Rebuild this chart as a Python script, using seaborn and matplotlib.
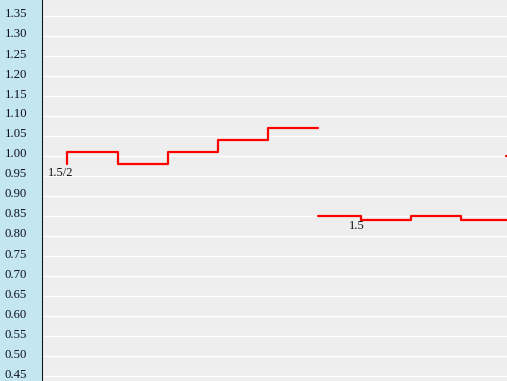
import matplotlib
matplotlib.use("Agg")
import matplotlib.pyplot as plt
import matplotlib.transforms as mtrans
import seaborn as sns
import numpy as np
import pandas as pd

# ---- data ----
s1_x = [0.5, 1.52, 2.52, 3.52, 4.52, 5.52]
s1_y = [0.98, 1.01, 0.98, 1.01, 1.04, 1.07]
s2_x = [5.52, 6.38, 7.38, 8.38, 9.36]
s2_y = [0.85, 0.85, 0.84, 0.85, 0.84]
s3_x = [9.28, 10.3]
s3_y = [1.00, 1.00]
y_ticks = [0.45, 0.50, 0.55, 0.60, 0.65, 0.70, 0.75, 0.80, 0.85, 0.90,
           0.95, 1.00, 1.05, 1.10, 1.15, 1.20, 1.25, 1.30, 1.35]
y_tick_labels = [f"{v:.2f}" for v in y_ticks]
notes = ["1.5/2", "1.5"]
note_x = [0.38, 6.3]
note_y = [0.957, 0.826]

sns.set_style("white")
plt.rcParams['font.family'] = ['Liberation Serif', 'DejaVu Serif']

fig = plt.figure(figsize=(5.07, 3.81), dpi=100)
fig.patch.set_facecolor('#c3e6f1')
ax = fig.add_axes([42/507, 0, 465/507, 1])
ax.set_facecolor('#eeeeee')

for xs, ys in [(s1_x, s1_y), (s2_x, s2_y), (s3_x, s3_y)]:
    df = pd.DataFrame({"x": xs, "y": ys})
    sns.lineplot(data=df, x="x", y="y", ax=ax, color='#ff0000', linewidth=1.6,
                 drawstyle='steps-pre', sort=False, estimator=None)

for t, x, y in zip(notes, note_x, note_y):
    ax.text(x, y, t, fontsize=9, ha='center', va='center', color='#111111')

ax.set_xlim(0, 9.3)
ax.set_ylim(0.4375, 1.39)
ax.set_yticks(y_ticks)
ax.set_yticklabels(y_tick_labels)
ax.set_xticks([])
ax.set_xlabel("")
ax.set_ylabel("")
ax.yaxis.grid(True, color='white', linewidth=1.0)
ax.set_axisbelow(True)
for s in ['top', 'right', 'bottom']:
    ax.spines[s].set_visible(False)
ax.spines['left'].set_color('#111111')
ax.spines['left'].set_linewidth(0.75)
ax.tick_params(axis='y', direction='inout', length=4.5, width=0.9, color='black',
               labelsize=9.2, pad=8.5, labelcolor='#111122')

offset = mtrans.ScaledTranslation(0, 3/100, fig.dpi_scale_trans)
for lab in ax.get_yticklabels():
    lab.set_transform(lab.get_transform() + offset)

fig.savefig("out.png", dpi=100, facecolor=fig.get_facecolor())
